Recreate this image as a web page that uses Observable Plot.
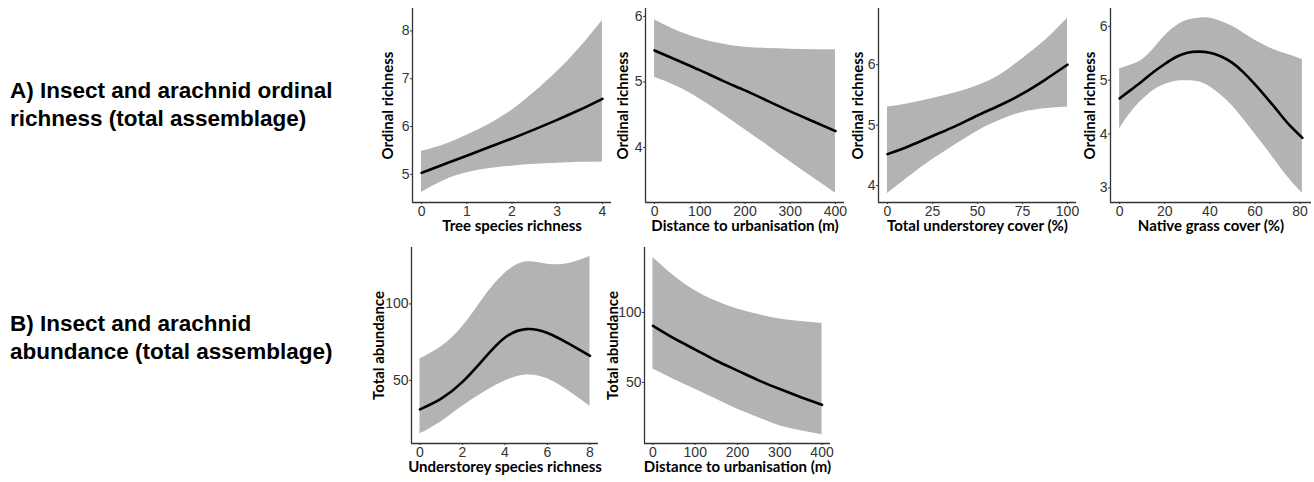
<!DOCTYPE html>
<html>
<head>
<meta charset="utf-8">
<script src="https://cdn.jsdelivr.net/npm/d3@7"></script>
<script src="https://cdn.jsdelivr.net/npm/@observablehq/plot@0.6"></script>
<style>
  html, body { margin: 0; padding: 0; background: #fff; }
  body { width: 1314px; height: 482px; position: relative; overflow: hidden; }
  .heading { position: absolute; left: 10px; font: bold 22.5px "Liberation Sans", Arial, sans-serif; line-height: 28px; color: #000; white-space: nowrap; }
  .panel { position: absolute; }
  .panel svg { overflow: visible; }
  .panel g[aria-label="x-axis label"], .panel g[aria-label="y-axis label"] { font-family: Lato, "Open Sans", sans-serif; font-weight: bold; font-size: 15px; }
  .panel g[aria-label="x-axis label"] text, .panel g[aria-label="y-axis label"] text { font-family: Lato, "Open Sans", sans-serif; font-weight: bold; font-size: 15px; fill: #000; }
</style>
</head>
<body>
<div class="heading" style="top:77px">A) Insect and arachnid ordinal<br>richness (total assemblage)</div>
<div class="heading" style="top:310px">B) Insect and arachnid<br>abundance (total assemblage)</div>
<script>
// ---- Panel A1: tree species richness ----
const treeX     = [0, 0.5, 1, 1.5, 2, 2.5, 3, 3.5, 4];
const treeFit   = [5.03, 5.21, 5.39, 5.57, 5.75, 5.94, 6.14, 6.35, 6.58];
const treeLower = [4.62, 4.87, 5.03, 5.12, 5.17, 5.21, 5.23, 5.25, 5.26];
const treeUpper = [5.48, 5.62, 5.82, 6.05, 6.34, 6.72, 7.15, 7.65, 8.22];

// ---- Panel A2: distance to urbanisation (richness) ----
const distX      = [0, 50, 100, 150, 200, 250, 300, 350, 400];
const distRFit   = [5.48, 5.33, 5.18, 5.02, 4.87, 4.71, 4.55, 4.40, 4.25];
const distRLower = [5.07, 4.93, 4.74, 4.51, 4.27, 4.03, 3.78, 3.54, 3.30];
const distRUpper = [5.95, 5.78, 5.66, 5.58, 5.53, 5.51, 5.50, 5.49, 5.49];

// ---- Panel A3: total understorey cover ----
const coverX     = [0, 12.5, 25, 37.5, 50, 62.5, 75, 87.5, 100];
const coverFit   = [4.52, 4.66, 4.82, 4.98, 5.16, 5.33, 5.52, 5.75, 6.00];
const coverLower = [3.87, 4.16, 4.43, 4.67, 4.90, 5.08, 5.21, 5.27, 5.30];
const coverUpper = [5.30, 5.36, 5.44, 5.53, 5.65, 5.83, 6.10, 6.40, 6.77];

// ---- Panel A4: native grass cover ----
const grassX     = [0, 5, 10, 15, 20, 25, 30, 35, 40, 45, 50, 55, 60, 65, 70, 75, 81];
const grassFit   = [4.66, 4.82, 4.98, 5.15, 5.30, 5.43, 5.51, 5.53, 5.51, 5.44, 5.32, 5.14, 4.92, 4.68, 4.43, 4.18, 3.93];
const grassLower = [4.10, 4.40, 4.63, 4.81, 4.92, 4.98, 4.99, 4.97, 4.88, 4.72, 4.52, 4.27, 4.00, 3.73, 3.45, 3.18, 2.90];
const grassUpper = [5.21, 5.28, 5.38, 5.58, 5.82, 6.00, 6.11, 6.15, 6.15, 6.09, 6.00, 5.87, 5.74, 5.63, 5.54, 5.47, 5.38];

// ---- Panel B1: understorey species richness (abundance) ----
const underX     = [0, 1, 2, 3, 4, 5, 6, 7, 8];
const underFit   = [31, 38, 49, 64, 78, 83.5, 81, 74, 66];
const underLower = [15, 23, 33, 42, 49.5, 53.5, 51, 43, 33];
const underUpper = [64, 72, 85, 104, 120, 127.5, 126, 126.5, 131];

// ---- Panel B2: distance to urbanisation (abundance) ----
const distAFit   = [90.5, 81.5, 73.5, 65.5, 58.5, 51.5, 45.3, 39.5, 34];
const distALower = [59.6, 52.2, 45.2, 38, 30.9, 24.8, 19.1, 15.5, 12.6];
const distAUpper = [139.3, 126, 115.5, 108, 102.4, 98.5, 95.3, 93.5, 92.1];

// ---- Axis labels and ticks ----
const yLabelRich = "Ordinal richness";
const yLabelAbund = "Total abundance";
const xLabels = ["Tree species richness", "Distance to urbanisation (m)", "Total understorey cover (%)",
                 "Native grass cover (%)", "Understorey species richness", "Distance to urbanisation (m)"];
const xTickSets = [[0, 1, 2, 3, 4], [0, 100, 200, 300, 400], [0, 25, 50, 75, 100],
                   [0, 20, 40, 60, 80], [0, 2, 4, 6, 8], [0, 100, 200, 300, 400]];
const yTickSets = [[5, 6, 7, 8], [4, 5, 6], [4, 5, 6], [3, 4, 5, 6], [50, 100], [50, 100]];

function rows(xs, fit, lo, hi) {
  return xs.map((x, i) => ({x, fit: fit[i], lo: lo[i], hi: hi[i]}));
}

const ML = 70, MR = 8, MT = 6, MB = 44;

const panels = [
  {data: rows(treeX, treeFit, treeLower, treeUpper), frame: [412, 8, 199, 194], xd: [-0.2, 4.2], yd: [4.41, 8.47], yl: yLabelRich, ylo: 30},
  {data: rows(distX, distRFit, distRLower, distRUpper), frame: [645, 8, 199, 194], xd: [-20, 420], yd: [3.16, 6.12], yl: yLabelRich, ylo: 28.5},
  {data: rows(coverX, coverFit, coverLower, coverUpper), frame: [878, 8, 198, 194], xd: [-5, 105], yd: [3.72, 6.93], yl: yLabelRich, ylo: 26.5},
  {data: rows(grassX, grassFit, grassLower, grassUpper), frame: [1110, 8, 201, 194], xd: [-4.05, 85.05], yd: [2.73, 6.33], yl: yLabelRich, ylo: 26},
  {data: rows(underX, underFit, underLower, underUpper), frame: [411, 247, 187, 196], xd: [-0.4, 8.4], yd: [8.7, 136.9], yl: yLabelAbund, ylo: 38},
  {data: rows(distX, distAFit, distALower, distAUpper), frame: [644, 247, 186, 196], xd: [-20, 420], yd: [6.4, 146.4], yl: yLabelAbund, ylo: 37}
];

panels.forEach((p, i) => {
  const [fx, fy, fw, fh] = p.frame;
  const W = ML + fw + MR, H = MT + fh + MB;
  const chart = Plot.plot({
    width: W, height: H,
    marginLeft: ML, marginRight: MR, marginTop: MT, marginBottom: MB,
    style: {background: "transparent", fontFamily: "'Liberation Sans', Arial, sans-serif", fontSize: "14px", color: "#333", overflow: "visible"},
    x: {domain: p.xd},
    y: {domain: p.yd},
    marks: [
      Plot.areaY(p.data, {x: "x", y1: "lo", y2: "hi", fill: "#b3b3b3", curve: "natural"}),
      Plot.lineY(p.data, {x: "x", y: "fit", stroke: "#000", strokeWidth: 2.6, curve: "natural"}),
      Plot.ruleX([p.xd[0]], {stroke: "#333", strokeWidth: 1.3}),
      Plot.ruleY([p.yd[0]], {stroke: "#333", strokeWidth: 1.3}),
      Plot.axisX({ticks: xTickSets[i], tickSize: 2, tickPadding: 2, tickFormat: d => String(d), label: xLabels[i], labelAnchor: "center", labelOffset: 28, labelArrow: "none", color: "#333"}),
      Plot.axisY({ticks: yTickSets[i], tickSize: 2, tickPadding: 1, tickFormat: d => String(d), label: p.yl, labelAnchor: "center", labelOffset: p.ylo, labelArrow: "none", color: "#333"})
    ]
  });
  const div = document.createElement("div");
  div.className = "panel";
  div.style.left = (fx - ML) + "px";
  div.style.top = (fy - MT) + "px";
  div.style.width = W + "px";
  div.style.height = H + "px";
  div.appendChild(chart);
  document.body.appendChild(div);
});
</script>
</body>
</html>
